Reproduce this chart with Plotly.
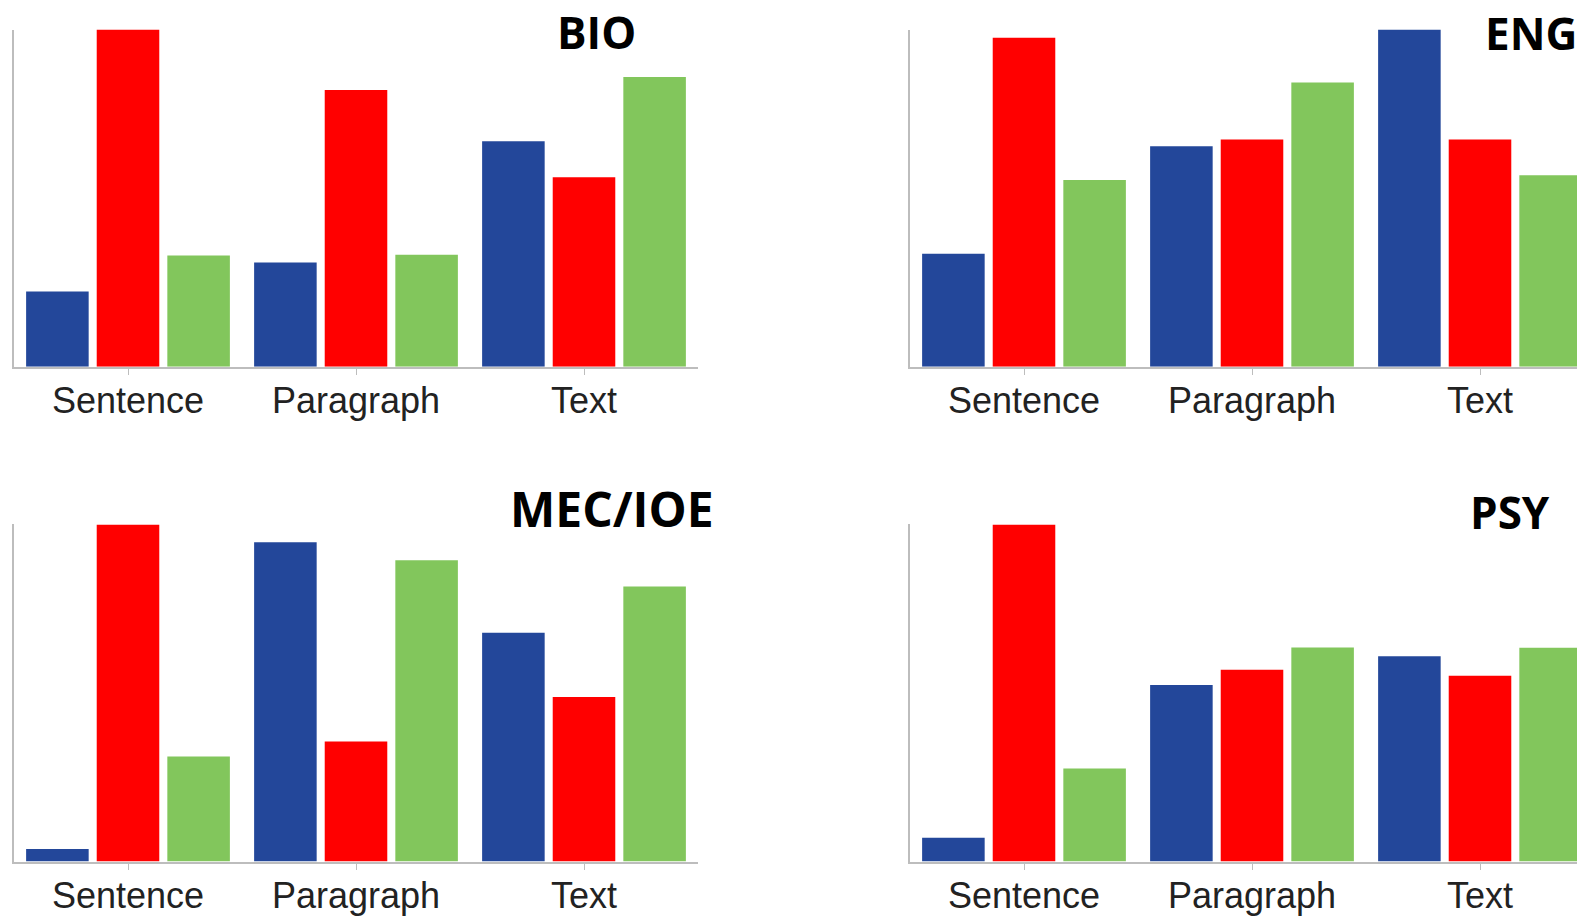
import plotly.graph_objects as go

categories = ["Sentence", "Paragraph", "Text"]
panel_titles = ["BIO", "ENG", "MEC/IOE", "PSY"]

# values normalised to the tallest bar in each panel (=100)
bio_blue = [22.3, 30.9, 66.9]
bio_red = [100.0, 82.1, 56.2]
bio_green = [33.0, 33.2, 85.9]

eng_blue = [33.5, 65.4, 100.0]
eng_red = [97.6, 67.4, 67.4]
eng_green = [55.4, 84.3, 56.8]

mec_blue = [3.7, 94.7, 67.9]
mec_red = [100.0, 35.6, 48.8]
mec_green = [31.2, 89.4, 81.6]

psy_blue = [7.1, 52.4, 60.9]
psy_red = [100.0, 56.9, 55.1]
psy_green = [27.6, 63.5, 63.4]

series_names = ["Series 1", "Series 2", "Series 3"]
colors = ["#23479A", "#FF0000", "#82C65C"]

panels = [
    (bio_blue, bio_red, bio_green),
    (eng_blue, eng_red, eng_green),
    (mec_blue, mec_red, mec_green),
    (psy_blue, psy_red, psy_green),
]

W, H = 1577, 916
fig = go.Figure()


def px_x(v):
    return v / W


def px_y(v):
    return 1 - v / H


left_x = [px_x(14), px_x(698)]
right_x = [px_x(910), 1.0]
top_y = [px_y(372), px_y(30)]
bot_y = [px_y(874), px_y(532)]
doms = [(left_x, top_y), (right_x, top_y), (left_x, bot_y), (right_x, bot_y)]
cat_px = (698 - 14) / 3.0

for i, (vals, (dx, dy)) in enumerate(zip(panels, doms)):
    n = i + 1
    xa = "x" if n == 1 else f"x{n}"
    ya = "y" if n == 1 else f"y{n}"
    for name, color, v in zip(series_names, colors, vals):
        fig.add_trace(go.Bar(
            x=categories, y=v, name=name, marker_color=color,
            marker_line_width=0, xaxis=xa, yaxis=ya,
            showlegend=False,
        ))
    width_px = (dx[1] - dx[0]) * W
    rng_end = -0.5 + width_px / cat_px
    axis_common = dict(showline=True, linecolor="#BDBDBD", linewidth=2,
                       showgrid=False, zeroline=False)
    fig.update_layout(**{
        ("xaxis" if n == 1 else f"xaxis{n}"): dict(
            domain=dx, anchor=ya, range=[-0.5, rng_end],
            ticks="outside", ticklen=6, tickcolor="#BDBDBD", tickwidth=1,
            ticklabelstandoff=-5,
            tickfont=dict(family="Liberation Sans, Arial", size=36, color="#222222"),
            fixedrange=True, **axis_common),
        ("yaxis" if n == 1 else f"yaxis{n}"): dict(
            domain=dy, anchor=xa, range=[0, 100], showticklabels=False,
            ticks="", fixedrange=True, **axis_common),
    })

# (x pixel, y pixel of cap centre, anchor, font size)
title_pos = [
    (555, 32, "left", 44), (1483, 33, "left", 44),
    (611.5, 516, "center", 48), (1468, 519, "left", 44),
]
for t, (px, py, anc, fs) in zip(panel_titles, title_pos):
    fig.add_annotation(
        text=t, x=px_x(px), y=px_y(py), xref="paper", yref="paper",
        xanchor=anc, yanchor="middle", showarrow=False,
        font=dict(family="Open Sans", size=fs, color="#000000", weight="bold"),
    )

fig.update_layout(
    width=W, height=H, margin=dict(l=0, r=0, t=0, b=0),
    paper_bgcolor="white", plot_bgcolor="white",
    barmode="group", bargap=0.071, bargroupgap=0.114,
)

fig.write_html(
    "out.html",
    config={"displayModeBar": False},
    post_script="document.body.style.margin='0';document.body.style.overflow='hidden';",
)
